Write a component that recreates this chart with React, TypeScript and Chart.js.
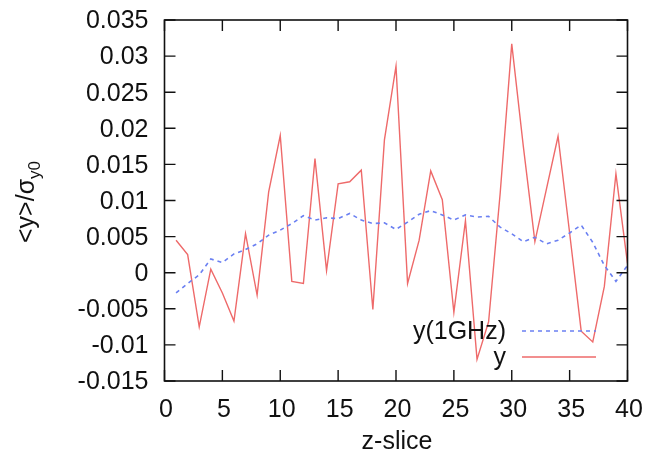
import React, { useEffect, useRef } from "react";
import { Chart, registerables } from "chart.js";

Chart.register(...registerables);

// z-slice index for each sample
const zSlices = [
  1, 2, 3, 4, 5, 6, 7, 8, 9, 10,
  11, 12, 13, 14, 15, 16, 17, 18, 19, 20,
  21, 22, 23, 24, 25, 26, 27, 28, 29, 30,
  31, 32, 33, 34, 35, 36, 37, 38, 39, 40,
];

// <y>/sigma_y0 filtered at 1 GHz
const y1GHz = [
  -0.0028, -0.0015, -0.0003, 0.0019, 0.0014, 0.0026, 0.0032, 0.004, 0.0052, 0.0059,
  0.0068, 0.0079, 0.0073, 0.0076, 0.0075, 0.0082, 0.0073, 0.0068, 0.0069, 0.006,
  0.007, 0.0081, 0.0086, 0.008, 0.0073, 0.008, 0.0077, 0.0078, 0.0063, 0.0054,
  0.0043, 0.0049, 0.004, 0.0045, 0.0055, 0.0066, 0.0042, 0.001, -0.0012, 0.001,
];

// raw <y>/sigma_y0
const yRaw = [
  0.0045, 0.0025, -0.0075, 0.0005, -0.0028, -0.0067, 0.0054, -0.0031, 0.0112, 0.019,
  -0.0012, -0.0015, 0.0158, 0.0003, 0.0123, 0.0126, 0.0142, -0.0051, 0.0184, 0.0286,
  -0.0015, 0.0045, 0.0141, 0.0101, -0.0055, 0.0072, -0.012, -0.0068, 0.011, 0.0317,
  0.0175, 0.0043, 0.0116, 0.0189, 0.0055, -0.0081, -0.0096, -0.0019, 0.0137, 0.0013,
];

const xTicks = [0, 5, 10, 15, 20, 25, 30, 35, 40];
const yTicks = [-0.015, -0.01, -0.005, 0, 0.005, 0.01, 0.015, 0.02, 0.025, 0.03, 0.035];
const yTickLabels = ["-0.015", "-0.01", "-0.005", "0", "0.005", "0.01", "0.015", "0.02", "0.025", "0.03", "0.035"];

const seriesNames = ["y(1GHz)", "y"];
const seriesColors = ["#6b80f2", "#ee6a6a"];

const FONT = "Liberation Sans, Arial, Helvetica, sans-serif";
const INK = "#111111";
const SIZE = 25;

const framePlugin = {
  id: "gnuFrame",
  afterDatasetsDraw(chart: any) {
    const { ctx, chartArea: a, scales } = chart;
    const xs = scales.x;
    const ys = scales.y;
    ctx.save();

    // border
    ctx.strokeStyle = INK;
    ctx.lineWidth = 1.6;
    ctx.strokeRect(a.left, a.top, a.right - a.left, a.bottom - a.top);

    // inward ticks on all four sides
    const tl = 11;
    ctx.lineWidth = 1.4;
    ctx.beginPath();
    xTicks.forEach((v) => {
      const px = xs.getPixelForValue(v);
      ctx.moveTo(px, a.bottom);
      ctx.lineTo(px, a.bottom - tl);
      ctx.moveTo(px, a.top);
      ctx.lineTo(px, a.top + tl);
    });
    yTicks.forEach((v) => {
      const py = ys.getPixelForValue(v);
      ctx.moveTo(a.left, py);
      ctx.lineTo(a.left + tl, py);
      ctx.moveTo(a.right, py);
      ctx.lineTo(a.right - tl, py);
    });
    ctx.stroke();

    // tick labels
    ctx.fillStyle = INK;
    ctx.font = `${SIZE}px ${FONT}`;
    ctx.textBaseline = "middle";
    ctx.textAlign = "right";
    yTicks.forEach((v, i) => {
      ctx.fillText(yTickLabels[i], a.left - 16, ys.getPixelForValue(v) + 1.5);
    });
    ctx.textAlign = "center";
    xTicks.forEach((v) => {
      ctx.fillText(String(v), xs.getPixelForValue(v) + 1.5, a.bottom + 29);
    });

    // x title
    ctx.fillText("z-slice", (a.left + a.right) / 2 + 1, a.bottom + 61);

    // y title: <y>/σ with subscript y0, rotated
    ctx.save();
    ctx.translate(34, 202);
    ctx.rotate(-Math.PI / 2);
    ctx.textAlign = "left";
    ctx.textBaseline = "alphabetic";
    const main = "<y>/\u03c3";
    const sub = "y0";
    ctx.font = `${SIZE}px ${FONT}`;
    const w1 = ctx.measureText(main).width;
    ctx.font = `17px ${FONT}`;
    const w2 = ctx.measureText(sub).width;
    const x0 = -(w1 + w2) / 2;
    ctx.font = `${SIZE}px ${FONT}`;
    ctx.fillText(main, x0, 0);
    ctx.font = `17px ${FONT}`;
    ctx.fillText(sub, x0 + w1, 6);
    ctx.restore();

    // key
    ctx.font = `${SIZE}px ${FONT}`;
    ctx.textAlign = "right";
    ctx.textBaseline = "middle";
    const keyY = [331, 357];
    seriesNames.forEach((name, i) => {
      ctx.fillStyle = INK;
      ctx.fillText(name, 506, keyY[i] + 1);
      ctx.strokeStyle = seriesColors[i];
      ctx.lineWidth = 1.5;
      ctx.setLineDash(i === 0 ? [4, 4] : []);
      ctx.beginPath();
      ctx.moveTo(522, keyY[i]);
      ctx.lineTo(596, keyY[i]);
      ctx.stroke();
    });
    ctx.setLineDash([]);
    ctx.restore();
  },
};

export default function App() {
  const ref = useRef<HTMLCanvasElement | null>(null);

  useEffect(() => {
    if (!ref.current) return;
    const chart = new Chart(ref.current, {
      type: "line",
      data: {
        datasets: [
          {
            label: seriesNames[0],
            data: zSlices.map((z, i) => ({ x: z, y: y1GHz[i] })),
            borderColor: seriesColors[0],
            borderWidth: 1.6,
            borderDash: [4, 4],
            pointRadius: 0,
            tension: 0,
            fill: false,
          },
          {
            label: seriesNames[1],
            data: zSlices.map((z, i) => ({ x: z, y: yRaw[i] })),
            borderColor: seriesColors[1],
            borderWidth: 1.4,
            pointRadius: 0,
            tension: 0,
            fill: false,
          },
        ],
      },
      options: {
        animation: false,
        responsive: true,
        maintainAspectRatio: false,
        layout: { padding: { left: 164.5, top: 20, right: 20.5, bottom: 78 } },
        plugins: { legend: { display: false }, tooltip: { enabled: false } },
        scales: {
          x: { type: "linear", min: 0, max: 40, display: false },
          y: { type: "linear", min: -0.015, max: 0.035, display: false },
        },
      },
      plugins: [framePlugin],
    });
    return () => chart.destroy();
  }, []);

  return (
    <div style={{ position: "absolute", left: 0, top: 0, width: 648, height: 459, background: "#fff" }}>
      <canvas ref={ref} />
    </div>
  );
}
